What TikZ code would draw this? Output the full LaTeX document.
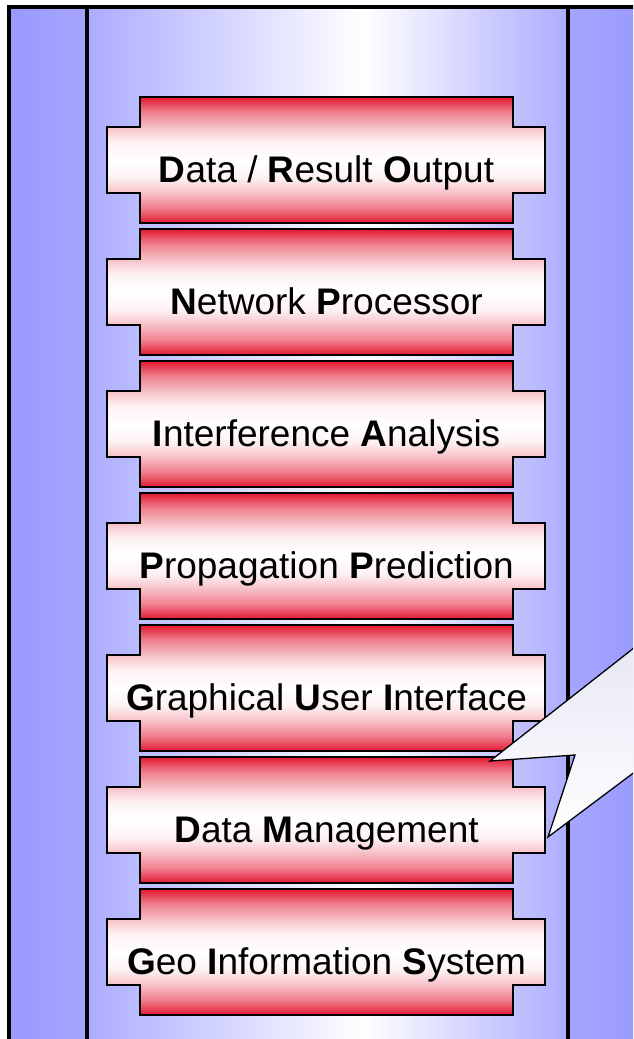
\documentclass[tikz,border=0pt]{standalone}
\usepackage{fontspec}
\setmainfont{Liberation Sans}
\usepackage{xcolor}
\usepackage{tikz}
\definecolor{ModRed}{RGB}{226, 24, 50}
\definecolor{BandBlue}{RGB}{153, 153, 255}
\definecolor{BandSide}{RGB}{166, 166, 255}
\definecolor{BandLight}{RGB}{172, 172, 255}
\definecolor{TipLilac}{RGB}{226, 226, 244}

% 模块的红白渐变
\pgfdeclareverticalshading{modshade}{100bp}{color(0bp)=(ModRed); color(25bp)=(ModRed);
    color(31bp)=(ModRed!55!white); color(37.5bp)=(ModRed!25!white); color(43bp)=(ModRed!6!white);
    color(50bp)=(white); color(57bp)=(ModRed!6!white); color(62.5bp)=(ModRed!25!white);
    color(69bp)=(ModRed!55!white); color(75bp)=(ModRed); color(100bp)=(ModRed)}

% 模块：名称, 上边 y, 文字
\newcommand{\modul}[3]{%
    \shadedraw[modfill] (140,#2) -- (513,#2) -- (513,#2+30) -- (545,#2+30) -- (545,#2+96)
        -- (513,#2+96) -- (513,#2+126) -- (140,#2+126) -- (140,#2+96) -- (107,#2+96)
        -- (107,#2+30) -- (140,#2+30) -- cycle;
    \node[modtext] (#1) at (326.5,#2+85) {#3};
}

\begin{document}
\begin{tikzpicture}[x=1pt, y=-1pt,
    modfill/.style={shading=modshade, draw=black, line width=2.3pt},
    modtext/.style={anchor=base, inner sep=0pt, font=\fontsize{37}{44}\selectfont}]
    \useasboundingbox (0,0) rectangle (633,1039);
    \clip (0,0) rectangle (633,1039);

    % 背景色带
    \shade[left color=BandBlue, right color=BandSide] (9,7) rectangle (87,1050);
    \shade[left color=BandLight, right color=white] (87,7) rectangle (365,1050);
    \shade[left color=white, right color=BandLight] (365,7) rectangle (568,1050);
    \shade[left color=BandSide, right color=BandBlue] (568,7) rectangle (645,1050);

    % 边框与分隔线
    \draw[line width=3.6pt] (645,7) -- (9,7) -- (9,1050);
    \draw[line width=3.6pt] (87,7) -- (87,1050);
    \draw[line width=3.6pt] (568,7) -- (568,1050);

    % 模块堆叠
    \modul{dro}{97}{\textbf{D}ata / \textbf{R}esult \textbf{O}utput}
    \modul{np}{229}{\textbf{N}etwork \textbf{P}rocessor}
    \modul{ia}{361}{\textbf{I}nterference \textbf{A}nalysis}
    \modul{pp}{493}{\textbf{P}ropagation \textbf{P}rediction}
    \modul{gui}{625}{\textbf{G}raphical \textbf{U}ser \textbf{I}nterface}
    \modul{dm}{757}{\textbf{D}ata \textbf{M}anagement}
    \modul{gis}{889}{\textbf{G}eo \textbf{I}nformation \textbf{S}ystem}

    % 标注气泡
    \shadedraw[top color=TipLilac, bottom color=white, line width=1.3pt]
        (700,596) -- (490,761) -- (575,755) -- (548,837) -- (700,723) -- cycle;
\end{tikzpicture}
\end{document}
